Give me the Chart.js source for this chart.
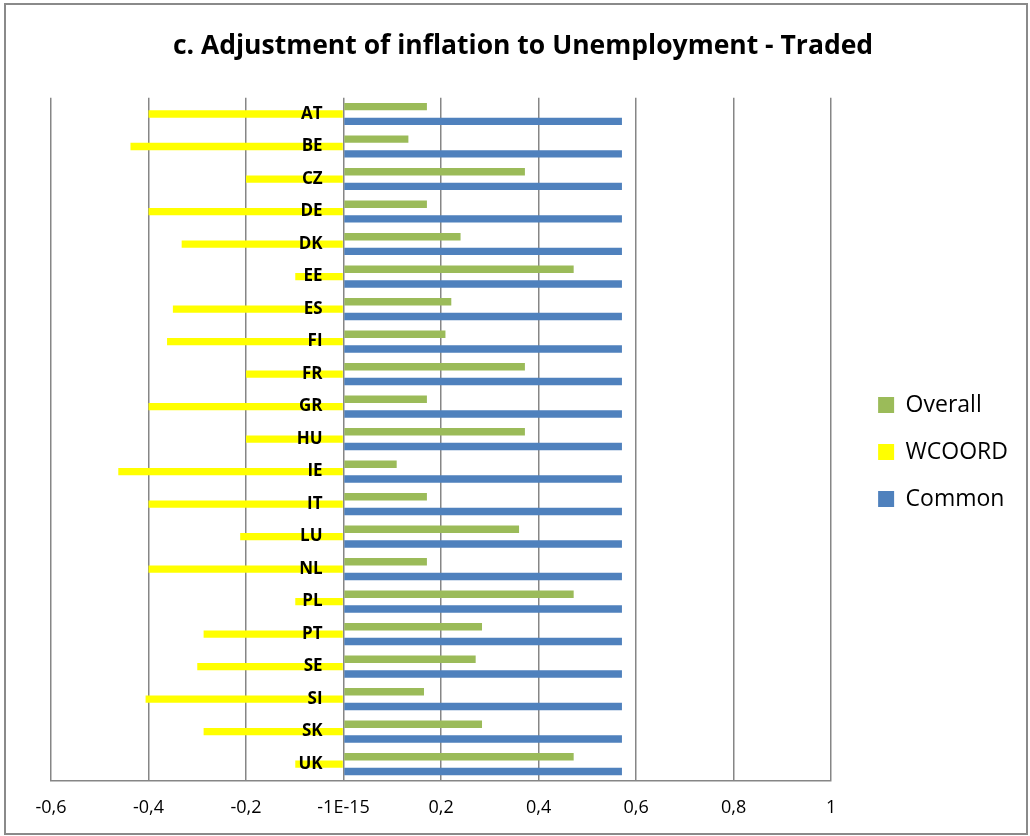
<!DOCTYPE html>
<html>
<head>
<meta charset="utf-8">
<title>Adjustment of inflation to Unemployment - Traded</title>
<script src="https://cdn.jsdelivr.net/npm/chart.js@4.4.1/dist/chart.umd.min.js"></script>
<style>
  body { margin: 0; background: #fff; }
  #wrap { position: relative; width: 1030px; height: 836px; }
  #frame {
    position: absolute; left: 4px; top: 3px; width: 1024px; height: 832px;
    box-sizing: border-box; border: 2px solid #8a8a8a; pointer-events: none;
  }
</style>
</head>
<body>
<div id="wrap">
  <canvas id="chart" width="1030" height="836"></canvas>
  <div id="frame"></div>
</div>
<script>
// Countries and coefficients
const countries = ['AT', 'BE', 'CZ', 'DE', 'DK', 'EE', 'ES', 'FI', 'FR', 'GR', 'HU',
                   'IE', 'IT', 'LU', 'NL', 'PL', 'PT', 'SE', 'SI', 'SK', 'UK'];
const overall = [0.171, 0.133, 0.372, 0.171, 0.240, 0.472, 0.221, 0.209, 0.372, 0.171, 0.372,
                 0.109, 0.171, 0.360, 0.171, 0.472, 0.284, 0.271, 0.165, 0.284, 0.472];
const wcoord = [-0.400, -0.437, -0.200, -0.400, -0.332, -0.099, -0.350, -0.362, -0.200, -0.400, -0.200,
                -0.462, -0.400, -0.212, -0.400, -0.099, -0.287, -0.300, -0.406, -0.287, -0.099];
const common = [0.571, 0.571, 0.571, 0.571, 0.571, 0.571, 0.571, 0.571, 0.571, 0.571, 0.571,
                0.571, 0.571, 0.571, 0.571, 0.571, 0.571, 0.571, 0.571, 0.571, 0.571];
const xTickLabels = ['-0,6', '-0,4', '-0,2', '-1E-15', '0,2', '0,4', '0,6', '0,8', '1'];

Chart.defaults.font.family = "'Open Sans', sans-serif";
Chart.defaults.color = '#000';

// move the legend away from the plot area and down to mid height
const legendShift = {
  id: 'legendShift',
  afterLayout(chart) {
    const lg = chart.legend;
    lg.left += 23;
    lg.right += 23;
    lg.top += 34;
    lg.bottom += 34;
  }
};

const gridGrey = '#868686';

const ctx = document.getElementById('chart').getContext('2d');
const chart = new Chart(ctx, {
  type: 'bar',
  data: {
    labels: countries,
    datasets: [
      { label: 'Overall', data: overall, backgroundColor: '#9BBB59' },
      { label: 'WCOORD', data: wcoord, backgroundColor: '#FFFF00' },
      { label: 'Common', data: common, backgroundColor: '#4F81BD' }
    ]
  },
  options: {
    responsive: false,
    animation: false,
    indexAxis: 'y',
    datasets: {
      bar: { categoryPercentage: 0.68, barPercentage: 1, borderWidth: 0 }
    },
    layout: { padding: { left: 51, right: 35, top: 0, bottom: 0 } },
    plugins: {
      title: {
        display: true,
        text: 'c. Adjustment of inflation to Unemployment - Traded',
        font: { size: 26.5, weight: 'bold' },
        color: '#000',
        padding: { top: 31, bottom: 35 }
      },
      legend: {
        position: 'right',
        labels: {
          boxWidth: 16,
          boxHeight: 16,
          padding: 24,
          font: { size: 23 },
          color: '#000'
        }
      },
      tooltip: { enabled: false }
    },
    scales: {
      x: {
        type: 'linear',
        min: -0.6,
        max: 1,
        ticks: {
          stepSize: 0.2,
          callback: (v, i) => xTickLabels[i],
          font: { size: 18, lineHeight: 1.2 },
          color: '#000',
          padding: 17
        },
        grid: { color: gridGrey, lineWidth: 1.5, drawTicks: false },
        border: { color: gridGrey, width: 1.5 }
      },
      y: {
        position: { x: -0.043 },
        offset: true,
        grid: { display: false, drawTicks: false },
        border: { display: false },
        // labels sit on top of the bars
        ticks: { z: 1, font: { size: 17, weight: 'bold' }, color: '#000' }
      }
    }
  },
  plugins: [legendShift]
});
</script>
</body>
</html>
